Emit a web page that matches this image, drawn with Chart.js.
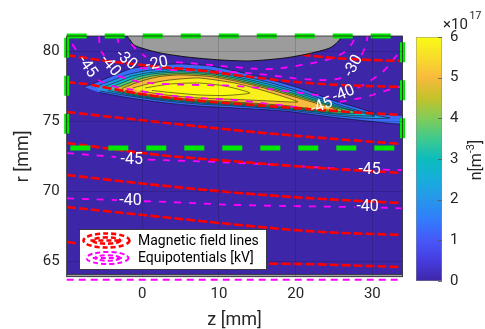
<!DOCTYPE html>
<html><head><meta charset="utf-8">
<script src="https://cdn.jsdelivr.net/npm/chart.js@4/dist/chart.umd.min.js"></script>
<style>
html,body{margin:0;padding:0;background:#fff;}
#wrap{position:relative;width:485px;height:329px;}
#wrap canvas{position:absolute;left:0;top:0;}
</style></head><body>
<div id="wrap"><canvas id="main" width="485" height="329"></canvas><canvas id="cbar" width="485" height="329"></canvas></div>
<script>
// ---------- axes ----------
const zRange = [-9.86, 33.93];      // z [mm]
const rRange = [63.93, 81.12];      // r [mm]
const zTicks = [0, 10, 20, 30];
const rTicks = [65, 70, 75, 80];
const cbRange = [0, 6];             // n [1e17 m^-3]
const cbTicks = [0, 1, 2, 3, 4, 5, 6];

// ---------- plasma density (filled contours, outer -> inner), values in 1e17 m^-3 ----------
const densityLevels = [1.3, 2.0, 2.8, 3.6, 4.4, 5.0, 5.8, 6.0];
const density1 = [[-7.59,77.48],[-5.51,77.91],[-3.55,78.34],[-1.60,78.76],[1.00,79.01],[4.91,79.12],[8.81,78.98],[12.07,78.62],[16.37,78.05],[20.79,77.34],[25.09,76.48],[28.60,75.91],[30.69,75.55],[34.3,75.41],[34.3,74.84],[29.38,75.05],[25.09,75.30],[18.58,75.76],[12.20,75.98],[7.38,76.12],[3.09,76.34],[-1.21,76.66],[-5.64,77.09]];
const density2 = [[-6.16,77.48],[-3.95,77.94],[-1.86,78.37],[0.74,78.66],[4.91,78.80],[8.81,78.69],[12.07,78.37],[16.37,77.84],[20.79,77.12],[25.09,76.30],[28.34,75.76],[30.95,75.41],[32.25,75.26],[29.64,75.23],[25.09,75.44],[18.58,75.87],[12.20,76.12],[7.38,76.26],[3.09,76.48],[-1.21,76.80],[-5.51,77.19]];
const density3 = [[-5.12,77.48],[-3.16,77.87],[-1.34,78.26],[1.00,78.51],[4.91,78.66],[8.81,78.55],[12.07,78.23],[16.37,77.69],[20.79,76.98],[25.09,76.19],[27.69,75.76],[30.30,75.41],[27.69,75.44],[25.09,75.55],[18.58,75.94],[12.20,76.19],[7.38,76.34],[3.09,76.55],[-1.21,76.87],[-4.47,77.23]];
const density4 = [[-4.21,77.44],[-2.51,77.80],[-0.82,78.16],[1.26,78.41],[4.91,78.55],[8.81,78.44],[12.07,78.12],[16.37,77.55],[20.79,76.84],[25.09,76.09],[28.34,75.62],[25.09,75.62],[18.58,76.01],[12.20,76.26],[7.38,76.41],[3.09,76.62],[-1.21,76.94],[-3.55,77.23]];
const density5 = [[-3.42,77.41],[-1.86,77.73],[-0.30,78.05],[1.65,78.30],[4.91,78.44],[8.81,78.34],[12.07,78.01],[16.37,77.44],[20.79,76.73],[26.39,75.76],[24.43,75.73],[18.58,76.09],[12.20,76.34],[7.38,76.48],[3.09,76.69],[-1.21,77.01],[-2.90,77.23]];
const density6 = [[-2.64,77.37],[-1.21,77.69],[0.35,77.98],[2.30,78.23],[4.91,78.34],[8.81,78.23],[12.07,77.91],[16.37,77.34],[20.79,76.62],[25.48,75.84],[22.88,75.87],[18.58,76.16],[12.20,76.41],[7.38,76.55],[3.09,76.76],[-1.21,77.09],[-2.25,77.23]];
const density7 = [[-1.21,77.41],[1.00,77.73],[3.61,77.98],[7.38,78.12],[12.07,77.76],[15.33,77.30],[18.58,76.76],[20.27,76.41],[16.63,76.48],[12.20,76.59],[7.38,76.69],[3.09,76.91],[-0.30,77.19]];
const density8 = [[0.35,77.41],[3.61,77.69],[7.38,77.76],[10.77,77.55],[14.02,77.05],[10.77,76.87],[7.38,76.91],[3.61,77.09],[1.26,77.23]];
const densityContours = [density1, density2, density3, density4, density5, density6, density7, density8];

// ---------- electrode (grey) and bottom wall ----------
const anodeShape = [[-1.99,81.6],[-1.99,81.12],[-1.60,80.84],[-1.08,80.48],[0.09,80.23],[2.30,79.91],[5.82,79.62],[10.12,79.41],[14.02,79.34],[18.58,79.55],[21.83,79.87],[24.43,80.26],[25.48,80.69],[26.00,81.12],[26.00,81.6]];
const bottomWall = [[-10.5,63.5],[34.5,63.5],[34.5,64.09],[-10.5,64.09]];

// ---------- magnetic field lines ----------
const field0 = [[-0.95,81.12],[7.51,80.48],[17.93,79.98],[23.53,79.62],[28.34,79.44],[33.81,79.34]];
const field1 = [[-9.84,79.76],[-4.73,79.34],[-1.21,79.12],[2.30,78.91],[7.51,78.66],[12.07,78.34],[16.37,78.05],[21.61,77.76],[27.04,77.59],[33.81,77.48]];
const field2 = [[-9.84,77.82],[-7.33,77.69],[-4.21,77.37],[2.30,76.78],[10.12,76.36],[12.72,76.26],[26.61,75.71],[33.81,75.48]];
const field3 = [[-9.84,75.69],[0,75.10],[12,74.40],[22,73.90],[33.81,73.41]];
const field4 = [[-9.84,73.48],[2.30,72.62],[12.72,72.14],[23,71.70],[33.81,71.34]];
const field5 = [[-9.84,71.19],[2.30,70.45],[12.72,69.91],[23,69.50],[33.81,69.19]];
const field6 = [[-9.84,68.91],[2.30,68.21],[12.72,67.62],[23,67.14],[33.81,66.91]];
const field7 = [[-9.84,66.41],[0,65.70],[10.12,65.00],[23,64.81],[33.81,64.62]];
const fieldLines = [field0, field1, field2, field3, field4, field5, field6, field7];

// ---------- equipotentials [kV] (null = break at label) ----------
const equi45upper = [[-9.15,80.55],[-8.11,79.69],null,[-5.77,77.98],[-3.95,77.55],[-0.30,77.19],[3.09,76.91],[7.38,76.69],[12.20,76.55],[16.63,76.26],[21.17,75.98],null,[25.74,76.41],[28.99,76.76],[31.60,77.19],[33.94,77.55]];
const equi40upper = [[-5.64,81.12],[-5.51,80.26],[-4.99,79.69],null,[-3.16,78.26],[-0.30,77.84],[3.09,77.69],[7.51,77.62],[12.20,77.55],[16.37,77.34],[20.79,77.05],[24.43,76.76],null,[28.08,77.41],[29.90,77.98],[31.60,78.69],[32.90,79.55],[33.81,80.12]];
const equi30upper = [[-3.29,81.12],[-3.03,80.41],null,[-0.30,78.84],[4.39,78.69],[8.81,78.62],[11.81,78.55],[16.37,78.34],[20.79,78.05],[24.43,77.98],[26.00,78.12],null,[28.60,79.76],[29.12,80.41],[29.38,81.12]];
const equi20upper = [[-1.47,80.55],[-0.56,80.05],[0.48,79.62],null,[4.39,79.26],[7.51,79.12],[11.81,78.91],[16.37,78.76],[20.79,79.05],[24.43,79.48],[26.39,79.98],[27.30,80.55],[27.82,81.12]];
const equi45lower = [[-9.84,72.76],[-3.42,72.48],null,[0.74,72.29],[12.72,72.05],[26.61,71.62],[28.0,71.58],null,[31.34,71.57],[33.81,71.55]];
const equi40lower = [[-9.84,69.53],[-3.29,69.40],null,[0.22,69.32],[2.30,69.29],[12.72,69.05],[26.61,68.91],[27.69,68.89],null,[31.08,68.86],[33.81,68.81]];
const equiWall = [[-9.86,63.72],[33.93,63.72]];
const equipotentials = [equi45upper, equi40upper, equi30upper, equi20upper, equi45lower, equi40lower];

// contour labels
const eqLabelText = ['-45','-40','-30','-20','-30','-40','-45','-45','-45','-40','-40'];
const eqLabelZ    = [-7.20,-4.21,-2.12,1.91,27.56,26.26,23.40,-1.38,29.64,-1.54,29.38];
const eqLabelR    = [78.91,78.98,79.41,79.12,78.98,76.98,76.12,72.26,71.55,69.34,68.89];
const eqLabelRot  = [55,50,40,-12,-62,-22,-22,0,0,0,0];

// region of interest (green dashed box)
const roiZ = [-9.86, 33.93];
const roiR = [73.12, 81.12];

const legendLabels = ['Magnetic field lines', 'Equipotentials [kV]'];

// ---------- colormap (parula) ----------
const PARULA = [[62,38,168],[70,60,222],[71,88,248],[50,124,252],[39,150,235],[24,173,219],[11,189,189],[63,202,142],[129,204,89],[197,194,42],[248,186,61],[247,220,42],[249,251,21]];
function parula(t){
  t = Math.max(0, Math.min(1, t));
  const p = t*(PARULA.length-1); const i = Math.min(Math.floor(p), PARULA.length-2); const f = p-i;
  const a = PARULA[i], b = PARULA[i+1];
  return 'rgb(' + a.map((v,k)=>Math.round(v+(b[k]-v)*f)).join(',') + ')';
}

const FONT = "Roboto, 'DejaVu Sans', sans-serif";
const TXT = '#262626';
const toPts = arr => arr.map(p => p ? {x:p[0], y:p[1]} : {x:null, y:null});
const base = {showLine:true, pointRadius:0, pointHoverRadius:0, fill:false};

const datasets = [];
datasets.push({...base, data: toPts(bottomWall), fill:'shape', backgroundColor:'#a0a0a0', borderColor:'#333', borderWidth:0.8, tension:0});
densityContours.forEach((c,i) => datasets.push({...base, data: toPts(c), fill:'shape',
  backgroundColor: parula((densityLevels[i]-cbRange[0])/(cbRange[1]-cbRange[0])), borderColor:'rgba(0,0,0,0.85)', borderWidth:0.6, tension:0.2}));
equipotentials.forEach(c => datasets.push({...base, data: toPts(c), borderColor:'#ff00ff', borderWidth:1.8, borderDash:[7,8], tension:0.35}));
datasets.push({...base, data: toPts(equiWall), borderColor:'#ff00ff', borderWidth:2, borderDash:[7,5], clip:false});
fieldLines.forEach(c => datasets.push({...base, data: toPts(c), borderColor:'#ff0000', borderWidth:2.6, borderDash:[9,3], tension:0.35}));
datasets.push({...base, data: toPts(anodeShape), fill:'shape', backgroundColor:'#9c9c9c', borderColor:'#111', borderWidth:1, tension:0.25});
datasets.push({...base, data: toPts([[roiZ[0],roiR[1]],[roiZ[1],roiR[1]],[roiZ[1],roiR[0]],[roiZ[0],roiR[0]],[roiZ[0],roiR[1]]]),
  borderColor:'rgb(0,232,0)', borderWidth:5, borderDash:[20,18], clip:false, tension:0});
datasets.forEach((d,i) => d.order = datasets.length - i);

function drawIcon(ctx, cx, cy, rx, ry, color, w){
  ctx.save(); ctx.strokeStyle = color; ctx.lineWidth = w; ctx.setLineDash([5,3]);
  ctx.beginPath(); ctx.ellipse(cx, cy, rx, ry, 0, 0, Math.PI*2); ctx.stroke();
  ctx.beginPath(); ctx.ellipse(cx, cy, rx*0.6, ry*0.45, 0, 0, Math.PI*2); ctx.stroke();
  ctx.beginPath(); ctx.moveTo(cx-rx*0.7, cy); ctx.lineTo(cx+rx*0.7, cy); ctx.stroke();
  ctx.restore();
}

const mainDecor = {
  id: 'mainDecor',
  beforeDatasetsDraw(chart){
    const {ctx, chartArea:a} = chart;
    ctx.save(); ctx.fillStyle = parula(0); ctx.fillRect(a.left, a.top, a.right-a.left, a.bottom-a.top); ctx.restore();
  },
  afterDatasetsDraw(chart){
    const {ctx, chartArea:a, scales:{x, y}} = chart;
    ctx.save();
    ctx.strokeStyle = TXT; ctx.lineWidth = 0.8; ctx.strokeRect(a.left, a.top, a.right-a.left, a.bottom-a.top);
    ctx.font = '16px ' + FONT; ctx.fillStyle = '#fff'; ctx.textAlign = 'center'; ctx.textBaseline = 'middle';
    eqLabelText.forEach((t,i) => {
      ctx.save(); ctx.translate(x.getPixelForValue(eqLabelZ[i]), y.getPixelForValue(eqLabelR[i]));
      ctx.rotate(eqLabelRot[i]*Math.PI/180); ctx.fillText(t, 0, 0); ctx.restore();
    });
    ctx.restore();
  },
  afterDraw(chart){
    const ctx = chart.ctx;
    ctx.save();
    ctx.fillStyle = '#fff'; ctx.fillRect(79.5, 229.5, 187, 40);
    ctx.strokeStyle = TXT; ctx.lineWidth = 0.8; ctx.strokeRect(79.5, 229.5, 187, 40);
    drawIcon(ctx, 106.5, 240.5, 23, 7, '#ff0000', 2.6);
    drawIcon(ctx, 107.5, 258, 21, 6, '#ff00ff', 2);
    ctx.font = '14px ' + FONT; ctx.fillStyle = '#000'; ctx.textAlign = 'left'; ctx.textBaseline = 'middle';
    ctx.fillText(legendLabels[0], 138, 241);
    ctx.fillText(legendLabels[1], 138, 258.5);
    ctx.restore();
  }
};

new Chart(document.getElementById('main'), {
  type: 'scatter',
  data: { datasets },
  options: {
    responsive:false, animation:false, events:[],
    layout: { padding: { left:0, right:82.5, top:36, bottom:0 } },
    plugins: { legend:{display:false}, tooltip:{enabled:false} },
    scales: {
      x: { type:'linear', min:zRange[0], max:zRange[1],
        afterBuildTicks: s => { s.ticks = zTicks.map(v => ({value:v})); },
        afterFit: s => { s.height = 52.3; },
        grid: { color:'rgba(0,0,0,0.14)', z:1, drawTicks:false },
        border: { display:false },
        ticks: { padding:9, color:TXT, font:{family:FONT, size:15} },
        title: { display:true, text:'z [mm]', color:TXT, font:{family:FONT, size:18, lineHeight:1}, padding:{top:0,bottom:0} } },
      y: { type:'linear', min:rRange[0], max:rRange[1],
        afterBuildTicks: s => { s.ticks = rTicks.map(v => ({value:v})); },
        afterFit: s => { s.width = 66.7; },
        grid: { color:'rgba(0,0,0,0.14)', z:1, drawTicks:false },
        border: { display:false },
        ticks: { padding:7, color:TXT, font:{family:FONT, size:15} },
        title: { display:true, text:'r [mm]', color:TXT, font:{family:FONT, size:18, lineHeight:1}, padding:{top:14,bottom:0} } }
    }
  },
  plugins: [mainDecor]
});

// ---------- colorbar ----------
const cbDecor = {
  id: 'cbDecor',
  afterDraw(chart){
    const {ctx, chartArea:a, scales:{y}} = chart;
    ctx.save();
    ctx.strokeStyle = '#555'; ctx.lineWidth = 0.8;
    cbTicks.forEach(v => { const py = Math.round(y.getPixelForValue(v)) + 0.5; ctx.beginPath(); ctx.moveTo(a.right-4, py); ctx.lineTo(a.right, py); ctx.stroke(); });
    ctx.fillStyle = TXT; ctx.textBaseline = 'alphabetic'; ctx.textAlign = 'left';
    ctx.font = '15px ' + FONT; ctx.fillText('\u00d710', 443, 28.5);
    ctx.font = '10.5px ' + FONT; ctx.fillText('17', 469.5, 18.5);
    // rotated unit label
    ctx.translate(477, 160); ctx.rotate(-Math.PI/2);
    const big = '16px ' + FONT, small = '11px ' + FONT;
    ctx.font = big; const w1 = ctx.measureText('n[m').width, w3 = ctx.measureText(']').width;
    ctx.font = small; const w2 = ctx.measureText('-3').width;
    let sx = -(w1+w2+w3)/2;
    ctx.textBaseline = 'middle';
    ctx.font = big; ctx.fillText('n[m', sx, 0); sx += w1;
    ctx.font = small; ctx.fillText('-3', sx, -6); sx += w2;
    ctx.font = big; ctx.fillText(']', sx, 0);
    ctx.restore();
  }
};

new Chart(document.getElementById('cbar'), {
  type: 'bar',
  data: { labels: ['n'], datasets: [{
    data: [cbRange[1]],
    backgroundColor: c => { const a = c.chart.chartArea; if (!a) return parula(0.5);
      const g = c.chart.ctx.createLinearGradient(0, a.bottom, 0, a.top);
      PARULA.forEach((col,i) => g.addColorStop(i/(PARULA.length-1), 'rgb(' + col.join(',') + ')'));
      return g; },
    borderColor:'#8a8a8a', borderWidth:0.8, borderSkipped:false, barPercentage:1, categoryPercentage:1 }] },
  options: {
    responsive:false, animation:false, events:[],
    layout: { padding: { left:416, top:37, bottom:48, right:0 } },
    plugins: { legend:{display:false}, tooltip:{enabled:false} },
    scales: {
      x: { display:false },
      y: { position:'right', min:cbRange[0], max:cbRange[1],
        afterBuildTicks: s => { s.ticks = cbTicks.map(v => ({value:v})); },
        afterFit: s => { s.width = 43; },
        grid: { display:false, drawTicks:false }, border: { display:false },
        ticks: { padding:8, color:TXT, font:{family:FONT, size:15} } }
    }
  },
  plugins: [cbDecor]
});
</script>
</body></html>
